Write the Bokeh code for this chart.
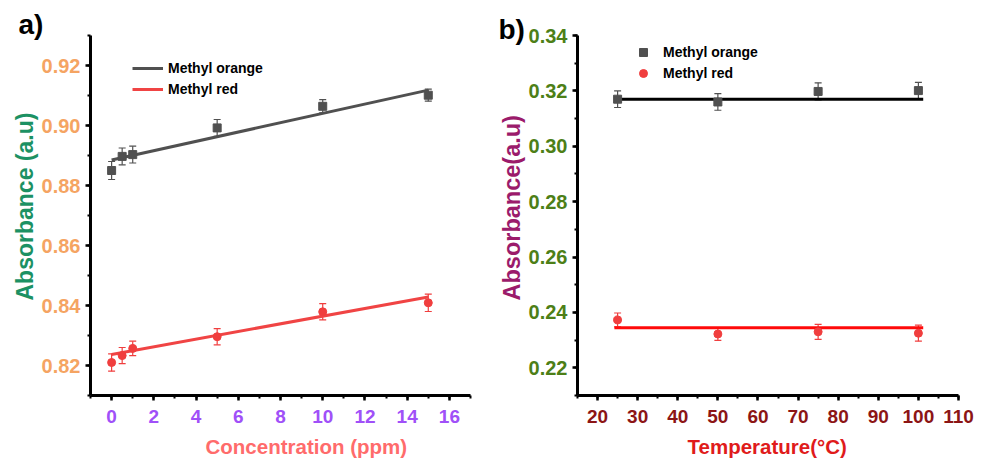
from bokeh.embed import file_html
from bokeh.layouts import row
from bokeh.models import (ColumnDataSource, Legend, LegendItem,
                          NumeralTickFormatter, SingleIntervalTicker, TeeHead,
                          Title, Whisker)
from bokeh.plotting import figure
from bokeh.resources import INLINE

FONT = "Liberation Sans"

# ---- (a) absorbance vs. dye concentration ----
conc_ppm = [0, 0.5, 1, 5, 10, 15]
mo_conc_abs = [0.885, 0.8897, 0.8903, 0.8992, 0.9064, 0.9101]
mo_conc_err = [0.003, 0.0028, 0.0028, 0.0028, 0.0022, 0.002]
mr_conc_abs = [0.821, 0.8233, 0.8257, 0.8296, 0.8379, 0.8409]
mr_conc_err = [0.0029, 0.0027, 0.0024, 0.0027, 0.0027, 0.0029]
conc_fit_x = [0, 15]
mo_conc_fit = [0.8885, 0.9118]
mr_conc_fit = [0.8237, 0.8428]

# ---- (b) absorbance vs. temperature ----
temp_c = [25, 50, 75, 100]
mo_temp_abs = [0.317, 0.316, 0.3198, 0.3201]
mo_temp_err = [0.003, 0.003, 0.0031, 0.003]
mr_temp_abs = [0.2373, 0.2322, 0.2330, 0.2325]
mr_temp_err = [0.0025, 0.0023, 0.0027, 0.0029]
temp_fit_x = [24.2, 101.2]
mo_temp_fit = [0.317, 0.317]
mr_temp_fit = [0.2345, 0.2345]

ORANGE_DYE = "#505050"
RED_DYE = "#F04444"


def style_axes(p, xcolor, ycolor, xsize, ysize):
    p.outline_line_color = None
    p.grid.visible = False
    p.background_fill_color = "white"
    p.border_fill_color = "white"
    for ax in (p.xaxis[0], p.yaxis[0]):
        ax.axis_line_width = 3
        ax.axis_line_color = "black"
        ax.major_tick_line_width = 2.5
        ax.major_tick_line_color = "black"
        ax.major_tick_out = 5
        ax.major_tick_in = 0
        ax.minor_tick_line_width = 2
        ax.minor_tick_line_color = "black"
        ax.minor_tick_out = 3
        ax.minor_tick_in = 0
        ax.major_label_text_font = FONT
        ax.major_label_text_font_style = "bold"
        ax.axis_label = None
    p.xaxis[0].major_label_text_color = xcolor
    p.xaxis[0].major_label_text_font_size = xsize
    p.xaxis[0].major_label_standoff = 9
    p.yaxis[0].major_label_text_color = ycolor
    p.yaxis[0].major_label_text_font_size = ysize
    p.yaxis[0].major_label_standoff = 5
    p.yaxis[0].formatter = NumeralTickFormatter(format="0.00")


def series(p, x, y, err, color, marker):
    src = ColumnDataSource(dict(
        x=x, y=y,
        lo=[v - e for v, e in zip(y, err)],
        hi=[v + e for v, e in zip(y, err)],
    ))
    w = Whisker(source=src, base="x", lower="lo", upper="hi", dimension="height",
                line_color=color, line_width=1.2,
                upper_head=TeeHead(size=7, line_color=color, line_width=1.2),
                lower_head=TeeHead(size=7, line_color=color, line_width=1.2))
    p.add_layout(w)
    return p.scatter("x", "y", source=src, marker=marker, size=8,
                     fill_color=color, line_color=color)


def side_text(p, s, place, size, color, align="left", offset=0, standoff=10):
    # offset is measured from the frame's left edge (below/above) or bottom edge (left)
    p.add_layout(Title(text=s, align=align, offset=offset, standoff=standoff,
                       text_font=FONT, text_font_style="bold",
                       text_font_size=size, text_color=color), place)


# ----------------------------- panel a -----------------------------
pa = figure(width=490, height=466, x_range=(-1, 17), y_range=(0.81, 0.93),
            min_border_left=90, min_border_right=20, min_border_top=35,
            min_border_bottom=71, output_backend="svg", toolbar_location=None)
style_axes(pa, "#A050F8", "#F5A462", "19px", "20px")
pa.xaxis[0].ticker = SingleIntervalTicker(interval=2, num_minor_ticks=2)
pa.yaxis[0].ticker = SingleIntervalTicker(interval=0.02, num_minor_ticks=2)

mo_line_a = pa.line(conc_fit_x, mo_conc_fit, line_color=ORANGE_DYE, line_width=3)
mr_line_a = pa.line(conc_fit_x, mr_conc_fit, line_color=RED_DYE, line_width=3)
series(pa, conc_ppm, mo_conc_abs, mo_conc_err, ORANGE_DYE, "square")
series(pa, conc_ppm, mr_conc_abs, mr_conc_err, "#F03E3E", "circle")

leg_a = Legend(items=[LegendItem(label="Methyl orange", renderers=[mo_line_a]),
                      LegendItem(label="Methyl red", renderers=[mr_line_a])],
               location=(42, 296), padding=0, margin=0, spacing=1,
               glyph_width=31, glyph_height=20, label_height=20, label_standoff=5,
               label_text_font=FONT, label_text_font_style="bold",
               label_text_font_size="14px", label_text_color="black",
               border_line_color=None, background_fill_alpha=0)
pa.add_layout(leg_a)

side_text(pa, "a)", "above", "28px", "black", offset=-72, standoff=-8)
side_text(pa, "Absorbance (a.u)", "left", "23px", "#1C9163", offset=95, standoff=1)
side_text(pa, "Concentration (ppm)", "below", "20.5px", "#FF6B6B", offset=115, standoff=15)

# ----------------------------- panel b -----------------------------
pb = figure(width=493, height=466, x_range=(15, 110), y_range=(0.21, 0.34),
            min_border_left=87, min_border_right=25, min_border_top=35,
            min_border_bottom=71, output_backend="svg", toolbar_location=None)
style_axes(pb, "#8C1515", "#4D7F17", "19px", "20px")
pb.xaxis[0].ticker = SingleIntervalTicker(interval=10, num_minor_ticks=2)
pb.yaxis[0].ticker = SingleIntervalTicker(interval=0.02, num_minor_ticks=2)

pb.line(temp_fit_x, mo_temp_fit, line_color="black", line_width=3)
pb.line(temp_fit_x, mr_temp_fit, line_color="#FF0A0A", line_width=3)
mo_pts_b = series(pb, temp_c, mo_temp_abs, mo_temp_err, ORANGE_DYE, "square")
mr_pts_b = series(pb, temp_c, mr_temp_abs, mr_temp_err, "#F03E3E", "circle")

leg_b = Legend(items=[LegendItem(label="Methyl orange", renderers=[mo_pts_b]),
                      LegendItem(label="Methyl red", renderers=[mr_pts_b])],
               location=(56, 312), padding=0, margin=0, spacing=1,
               glyph_width=20, glyph_height=20, label_height=20, label_standoff=10,
               label_text_font=FONT, label_text_font_style="bold",
               label_text_font_size="14px", label_text_color="black",
               border_line_color=None, background_fill_alpha=0)
pb.add_layout(leg_b)

side_text(pb, "b)", "above", "28px", "black", offset=-79, standoff=-18)
side_text(pb, "Absorbance(a.u)", "left", "23.5px", "#9B1B6B", offset=95, standoff=1)
side_text(pb, "Temperature(\u00b0C)", "below", "20.5px", "#E01B1B",
          offset=110, standoff=15)

layout = row(pa, pb)
open("out.html", "w").write(file_html(layout, INLINE))
